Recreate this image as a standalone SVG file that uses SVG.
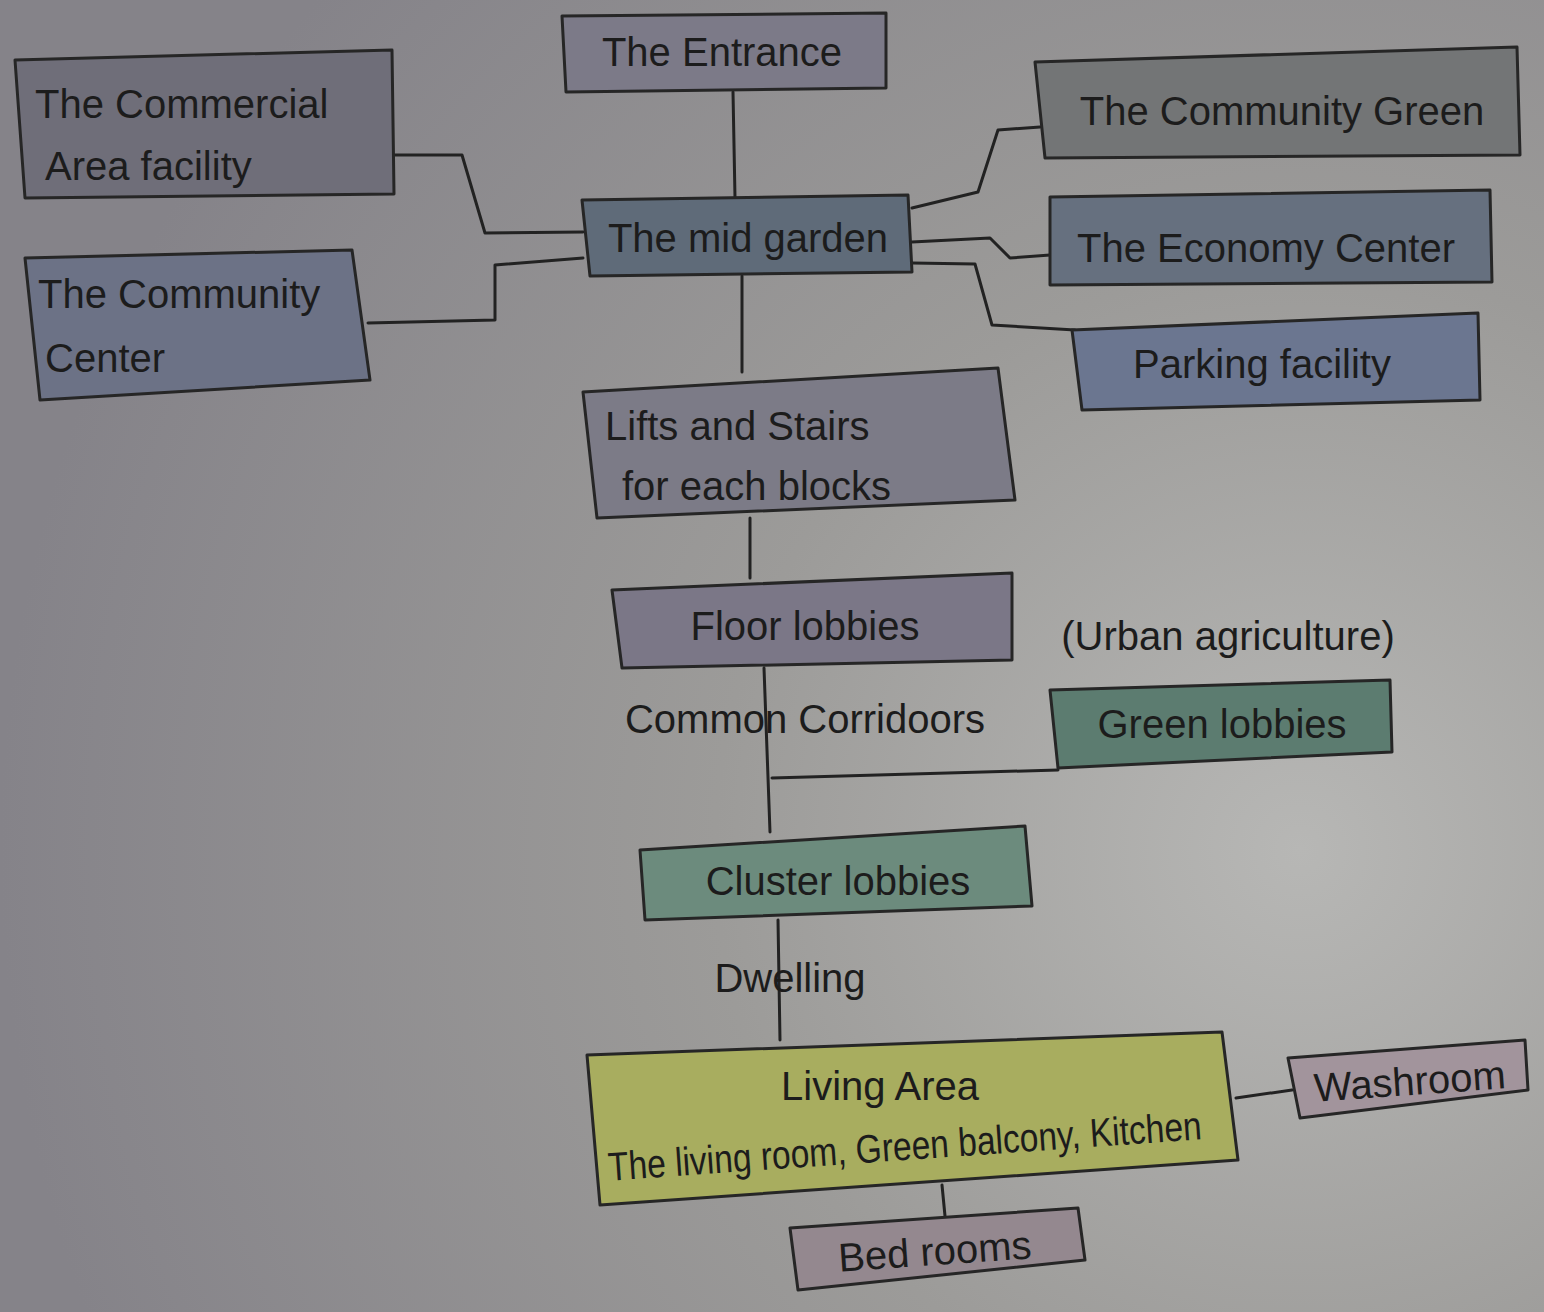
<svg xmlns="http://www.w3.org/2000/svg" width="1544" height="1312" viewBox="0 0 1544 1312">
<defs>
<radialGradient id="bg" cx="1300" cy="850" r="1300" gradientUnits="userSpaceOnUse">
<stop offset="0" stop-color="#b7b7b5"/>
<stop offset="0.45" stop-color="#9c9b99"/>
<stop offset="1" stop-color="#858389"/>
</radialGradient>
<style>
.box{stroke:#262626;stroke-width:3;stroke-linejoin:round}
.t{font-family:"Liberation Sans",Arial,sans-serif;fill:#1c1c1c;font-size:40px}
.c{text-anchor:middle}
.ln{fill:none;stroke:#222;stroke-width:3;stroke-linejoin:round;stroke-linecap:round}
</style>
</defs>
<rect width="1544" height="1312" fill="url(#bg)"/>

<g id="connectors">
<path class="ln" d="M733 92 L735 198"/>
<path class="ln" d="M393 155 L462 155 L485 233 L583 232"/>
<path class="ln" d="M368 323 L495 320 L495 265 L583 258"/>
<path class="ln" d="M912 208 L978 192 L998 130 L1040 127"/>
<path class="ln" d="M912 242 L990 238 L1010 258 L1050 255"/>
<path class="ln" d="M912 263 L975 264 L992 325 L1075 330"/>
<path class="ln" d="M742 276 L742 372"/>
<path class="ln" d="M750 518 L750 578"/>
<path class="ln" d="M764 668 L770 832"/>
<path class="ln" d="M772 778 L1058 770"/>
<path class="ln" d="M778 920 L780 1040"/>
<path class="ln" d="M1236 1098 L1292 1090"/>
<path class="ln" d="M942 1185 L945 1216"/>
</g>

<g id="entrance">
<polygon class="box" fill="#7c7a88" points="562,16 886,13 886,88 566,92"/>
<text class="t c" x="722" y="66">The Entrance</text>
</g>

<g id="commercial">
<polygon class="box" fill="#6f6e79" points="15,60 392,50 394,194 25,198"/>
<text class="t" x="35" y="118">The Commercial</text>
<text class="t" x="45" y="180">Area facility</text>
</g>

<g id="community-center">
<polygon class="box" fill="#6c7286" points="25,258 352,250 370,380 40,400"/>
<text class="t" x="38" y="308">The Community</text>
<text class="t" x="45" y="372">Center</text>
</g>

<g id="mid-garden">
<polygon class="box" fill="#5f6b79" points="582,200 908,195 912,272 590,276"/>
<text class="t c" x="748" y="252">The mid garden</text>
</g>

<g id="community-green">
<polygon class="box" fill="#737576" points="1035,62 1517,47 1520,155 1045,158"/>
<text class="t c" x="1282" y="125">The Community Green</text>
</g>

<g id="economy-center">
<polygon class="box" fill="#66707f" points="1050,197 1490,190 1492,282 1050,285"/>
<text class="t c" x="1266" y="262">The Economy Center</text>
</g>

<g id="parking">
<polygon class="box" fill="#6b7690" points="1072,330 1478,313 1480,400 1082,410"/>
<text class="t c" x="1262" y="378">Parking facility</text>
</g>

<g id="lifts">
<polygon class="box" fill="#7c7b87" points="583,392 998,368 1015,500 597,518"/>
<text class="t" x="605" y="440">Lifts and Stairs</text>
<text class="t" x="622" y="500">for each blocks</text>
</g>

<g id="floor-lobbies">
<polygon class="box" fill="#7b7787" points="612,590 1012,573 1012,660 622,668"/>
<text class="t c" x="805" y="640">Floor lobbies</text>
</g>

<text class="t c" x="805" y="733" font-size="36">Common Corridoors</text>

<text class="t c" x="1228" y="650" font-size="36">(Urban agriculture)</text>
<g id="green-lobbies">
<polygon class="box" fill="#5c7c70" points="1050,690 1390,680 1392,752 1058,768"/>
<text class="t c" x="1222" y="738">Green lobbies</text>
</g>

<g id="cluster-lobbies">
<polygon class="box" fill="#6c8b7d" points="640,850 1025,826 1032,906 645,920"/>
<text class="t c" x="838" y="895">Cluster lobbies</text>
</g>

<text class="t c" x="790" y="992" font-size="40">Dwelling</text>

<g id="living-area">
<polygon class="box" fill="#a8ad5f" points="587,1055 1222,1032 1238,1160 600,1205"/>
<text class="t c" x="880" y="1100" font-size="44">Living Area</text>
<text class="t c" x="905" y="1160" font-size="28" textLength="595" lengthAdjust="spacingAndGlyphs" transform="rotate(-4 905 1150)">The living room, Green balcony, Kitchen</text>
</g>

<g id="washroom">
<polygon class="box" fill="#a2949c" points="1288,1058 1525,1040 1528,1090 1300,1118"/>
<text class="t c" x="1410" y="1095" font-size="36" transform="rotate(-4 1410 1085)">Washroom</text>
</g>

<g id="bedrooms">
<polygon class="box" fill="#94888f" points="790,1228 1078,1208 1085,1260 798,1290"/>
<text class="t c" x="935" y="1265" font-size="38" transform="rotate(-4 935 1255)">Bed rooms</text>
</g>
</svg>
